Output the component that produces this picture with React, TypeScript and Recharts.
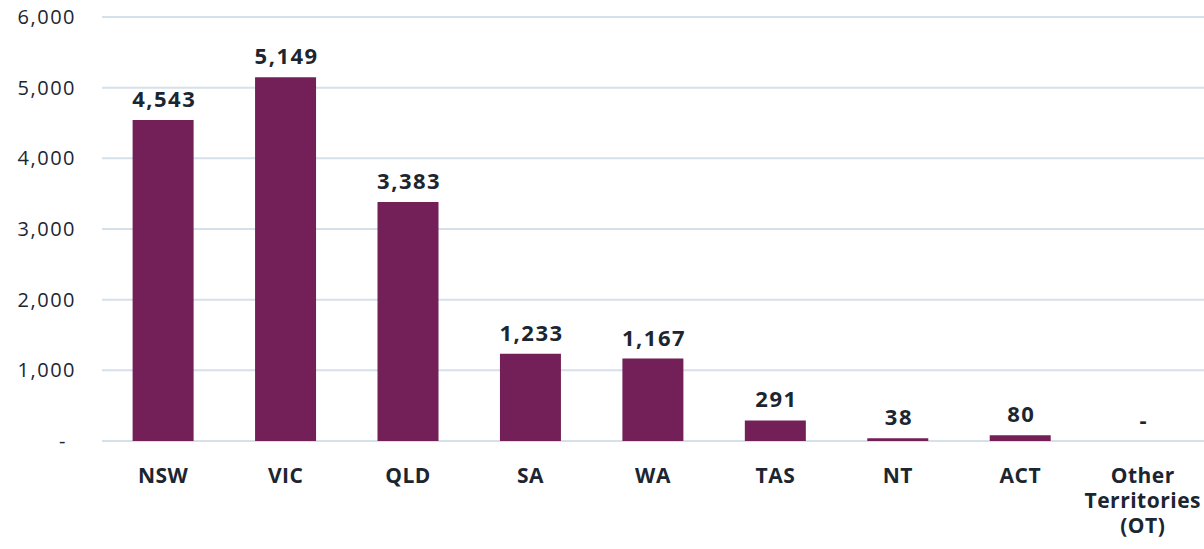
import React from "react";
import { ComposedChart, Bar, Line, XAxis, YAxis, CartesianGrid, LabelList } from "recharts";

const categories = ["NSW", "VIC", "QLD", "SA", "WA", "TAS", "NT", "ACT", "Other Territories (OT)"];
const values = [4543, 5149, 3383, 1233, 1167, 291, 38, 80, 0];
const yTicks = [0, 1000, 2000, 3000, 4000, 5000, 6000];

const data = categories.map((c, i) => ({ name: c, value: values[i] }));

const TEXT = "#1b2631";
const FONT = "'Open Sans', 'Noto Sans', sans-serif";

const fmt = (v: number) => (v === 0 ? "-" : v.toLocaleString("en-US"));

const XTick = (props: any) => {
  const { x, y, payload } = props;
  const words = String(payload.value).split(" ");
  return (
    <text
      x={x}
      y={y}
      textAnchor="middle"
      fill={TEXT}
      fontFamily={FONT}
      fontWeight={700}
      fontSize={21}
      letterSpacing={0.5}
    >
      {words.map((w: string, i: number) => (
        <tspan key={i} x={x} dy={i === 0 ? 42 : 25}>
          {w}
        </tspan>
      ))}
    </text>
  );
};

const YTick = (props: any) => {
  const { x, y, payload } = props;
  const v = Number(payload.value);
  return (
    <text
      x={x}
      y={y}
      dx={v === 0 ? -9 : 0}
      dy="0.355em"
      textAnchor="end"
      fill={TEXT}
      fontFamily={FONT}
      fontSize={20}
      letterSpacing={1.5}
    >
      {fmt(v)}
    </text>
  );
};

const ValueLabel = (props: any) => {
  const { x, y, value } = props;
  return (
    <text
      x={Number(x) + 1}
      y={Number(y) - 13}
      textAnchor="middle"
      fill={TEXT}
      fontFamily={FONT}
      fontWeight={700}
      fontSize={22}
      letterSpacing={1.5}
    >
      {fmt(Number(value))}
    </text>
  );
};

export default function App() {
  return (
    <div style={{ position: "absolute", left: 0, top: 0 }}>
      <ComposedChart
        width={1204}
        height={549}
        data={data}
        margin={{ top: 17, right: 0, left: 0, bottom: 0 }}
        barCategoryGap="25%"
      >
        <CartesianGrid vertical={false} stroke="#d6e0ea" strokeWidth={2} />
        <XAxis
          dataKey="name"
          axisLine={false}
          tickLine={false}
          tickSize={0}
          tickMargin={0}
          height={108}
          interval={0}
          tick={<XTick />}
        />
        <YAxis
          width={102}
          domain={[0, 6000]}
          ticks={yTicks}
          axisLine={false}
          tickLine={false}
          tickSize={0}
          tickMargin={26}
          tick={<YTick />}
        />
        <Bar dataKey="value" fill="#722057" isAnimationActive={false} />
        <Line
          dataKey="value"
          stroke="none"
          dot={false}
          activeDot={false}
          legendType="none"
          isAnimationActive={false}
        >
          <LabelList dataKey="value" content={<ValueLabel />} />
        </Line>
      </ComposedChart>
    </div>
  );
}
